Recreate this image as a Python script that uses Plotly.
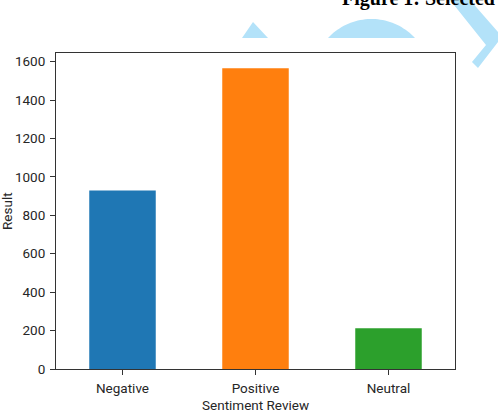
import numpy as np
import plotly.graph_objects as go

categories = ["Negative", "Positive", "Neutral"]
values = [929, 1566, 212]
bar_colors = ["#1f77b4", "#ff7f0e", "#2ca02c"]
y_ticks = [0, 200, 400, 600, 800, 1000, 1200, 1400, 1600]

W, H = 498, 414
ML, MR, MT, MB = 56, 43, 53, 45
PW, PH = W - ML - MR, H - MT - MB


def px(x, y):
    return (x - ML) / PW, (H - MB - y) / PH


def poly(points):
    pts = [px(x, y) for x, y in points]
    return "M " + " L ".join(f"{a:.4f},{b:.4f}" for a, b in pts) + " Z"


deco = "#b3e2f9"
shapes = []
# triangle
shapes.append(dict(type="path", xref="paper", yref="paper", path=poly([(242, 38), (253, 22), (268, 38)]),
                   fillcolor=deco, line=dict(width=0), layer="below"))
# dome (circle segment cut at y=38)
cx, cy, r = 371.5, 78.3, 59.3
angs = np.linspace(np.pi + np.arcsin((cy - 38) / r), 2 * np.pi - np.arcsin((cy - 38) / r), 40)
dome = [(cx + r * np.cos(a), cy + r * np.sin(a)) for a in angs]
shapes.append(dict(type="path", xref="paper", yref="paper", path=poly(dome),
                   fillcolor=deco, line=dict(width=0), layer="below"))
# chevron
shapes.append(dict(type="path", xref="paper", yref="paper",
                   path=poly([(450, 0), (470, 0), (498, 32), (498, 42), (478, 68), (472, 62), (486, 45)]),
                   fillcolor=deco, line=dict(width=0), layer="below"))

fig = go.Figure()
fig.add_trace(go.Bar(x=categories, y=values, marker=dict(color=bar_colors, line=dict(width=0)), width=0.5))

font = dict(family="Roboto", size=13.5, color="#262626")
axis_common = dict(showline=True, linecolor="#333333", linewidth=1, mirror=True,
                   ticks="outside", ticklen=5, tickcolor="#333333", tickwidth=1,
                   showgrid=False, zeroline=False, tickfont=font, automargin=False,
                   ticklabelstandoff=2)

xt, yt = px(255.5, 405)
rx, ry = px(7, 211)
fx, fy = px(497, 12)

fig.update_layout(
    width=W, height=H,
    margin=dict(l=ML, r=MR, t=MT, b=MB, pad=0),
    paper_bgcolor="white", plot_bgcolor="white",
    showlegend=False,
    shapes=shapes,
    xaxis=dict(range=[-0.5, 2.5], **axis_common),
    yaxis=dict(range=[0, 1645], tickvals=y_ticks, **axis_common),
    annotations=[
        dict(text="Sentiment Review", xref="paper", yref="paper", x=xt, y=yt,
             xanchor="center", yanchor="middle", showarrow=False, font=font),
        dict(text="Result", xref="paper", yref="paper", x=rx, y=ry, textangle=-90,
             xanchor="center", yanchor="middle", showarrow=False, font=font),
        dict(text="<b>Figure 1: Selected</b>", xref="paper", yref="paper",
             x=fx, y=fy, xanchor="right", yanchor="bottom",
             showarrow=False, font=dict(family="Liberation Serif", size=20, color="black")),
    ],
)

fig.write_html("out.html")
